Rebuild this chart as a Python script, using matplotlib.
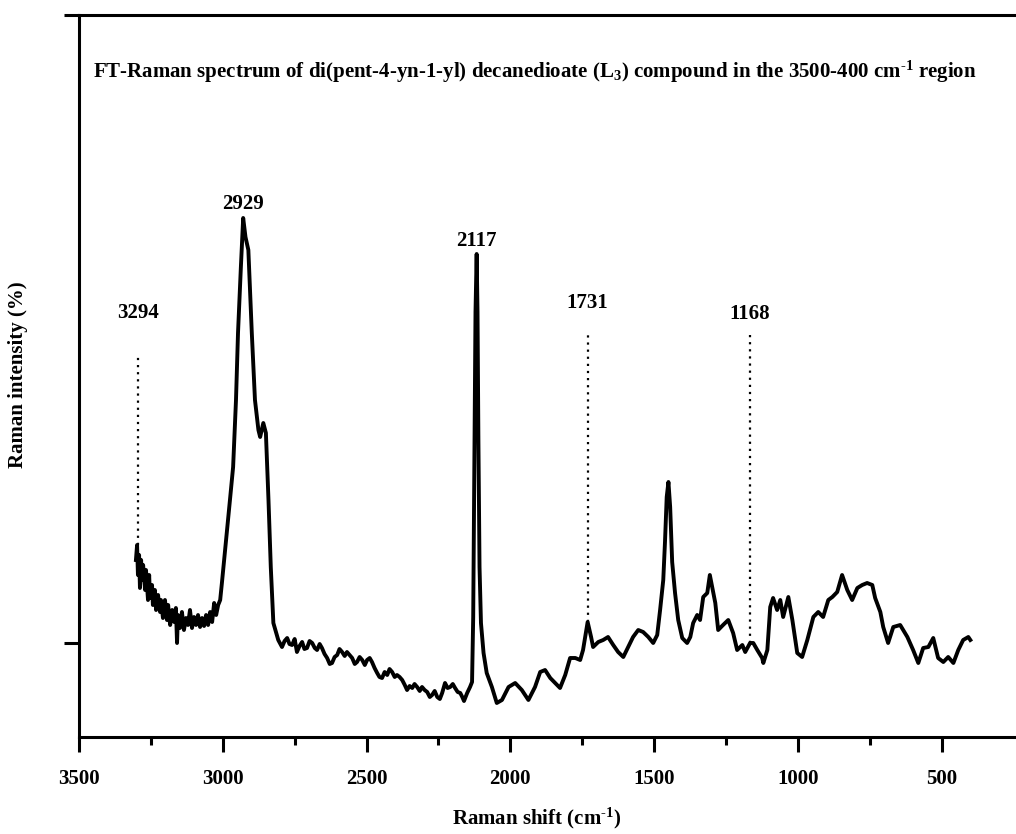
import numpy as np
import matplotlib
matplotlib.use("Agg")
import matplotlib.pyplot as plt

plt.rcParams['font.family'] = ['Liberation Serif', 'DejaVu Serif']
plt.rcParams['font.weight'] = 'bold'
plt.rcParams['mathtext.fontset'] = 'custom'
plt.rcParams['mathtext.rm'] = 'Liberation Serif:bold'
plt.rcParams['mathtext.it'] = 'Liberation Serif:bold'
plt.rcParams['mathtext.bf'] = 'Liberation Serif:bold'
plt.rcParams['mathtext.default'] = 'rm'

# Espectro (numero de onda cm-1, intensidad relativa)
wavenumber = [
    3302, 3298, 3295, 3291, 3288, 3284, 3281, 3277, 3270, 3267, 3260, 3256, 3253, 3246,
    3243, 3236, 3232, 3225, 3218, 3215, 3208, 3201, 3194, 3190, 3183, 3176, 3169, 3163,
    3159, 3156, 3149, 3142, 3135, 3128, 3121, 3114, 3107, 3100, 3093, 3086, 3079, 3072,
    3065, 3058, 3051, 3044, 3037, 3030, 3023, 3016, 3009, 3003, 2986, 2975, 2964, 2954,
    2947, 2937, 2929, 2921, 2911, 2899, 2888, 2876, 2870, 2859, 2850, 2841, 2833, 2824,
    2807, 2794, 2785, 2776, 2768, 2759, 2750, 2742, 2733, 2724, 2716, 2707, 2698, 2689,
    2680, 2672, 2663, 2655, 2646, 2637, 2628, 2620, 2611, 2602, 2594, 2585, 2576, 2568,
    2559, 2550, 2541, 2533, 2524, 2515, 2506, 2498, 2489, 2481, 2472, 2463, 2455, 2446,
    2437, 2428, 2420, 2411, 2402, 2394, 2385, 2376, 2367, 2359, 2350, 2341, 2333, 2324,
    2315, 2307, 2298, 2289, 2280, 2272, 2263, 2254, 2245, 2237, 2227, 2218, 2209, 2200,
    2192, 2183, 2174, 2167, 2161, 2150, 2140, 2133,
    2129, 2125, 2121, 2117, 2114, 2111, 2107, 2102, 2093, 2082, 2064, 2047, 2029, 2006,
    1983, 1960, 1937, 1914, 1896, 1879, 1861, 1844, 1827, 1809, 1792, 1774, 1757, 1747,
    1731, 1719, 1712, 1694, 1677, 1660, 1642, 1625, 1607, 1590, 1573, 1555, 1538, 1520,
    1503, 1489, 1479, 1468, 1462, 1456, 1450, 1444, 1437, 1427, 1416, 1402, 1385, 1374,
    1364, 1350, 1340, 1329, 1315, 1306, 1287, 1277, 1260, 1242, 1225, 1211, 1193, 1183,
    1166, 1155, 1141, 1124, 1120, 1106, 1096, 1086, 1072, 1061, 1051, 1033, 1019, 1002,
    985, 967, 946, 929, 912, 894, 880, 863, 846, 828, 811, 793, 776, 759, 741, 731, 713,
    703, 686, 668, 644, 619, 599, 581, 564, 546, 529, 512, 494, 477, 459, 442, 425, 407, 400,
]
intensity = [
    17.7, 19.2, 16.2, 18.2, 14.9, 17.7, 15.7, 17.2, 14.7, 16.7, 13.7, 16.2, 13.9, 15.2,
    13.2, 14.7, 12.7, 14.2, 12.5, 13.7, 11.9, 13.7, 11.7, 13.2, 11.2, 12.7, 11.5, 12.9,
    9.4, 12.2, 10.9, 12.5, 10.7, 11.9, 11.2, 12.7, 10.9, 12.0, 11.2, 12.2, 11.0, 11.9,
    11.1, 12.2, 11.2, 12.5, 11.5, 13.4, 12.2, 13.2, 13.7, 15.4, 20.4, 23.7, 27.0, 33.7,
    40.4, 47.0, 51.9, 50.0, 48.7, 40.4, 33.7, 30.7, 30.0, 31.4, 30.4, 23.7, 17.0, 11.4,
    9.7, 9.0, 9.6, 9.9, 9.3, 9.2, 9.8, 8.5, 9.1, 9.5, 8.8, 8.9, 9.6, 9.4,
    8.9, 8.7, 9.3, 8.9, 8.3, 7.9, 7.3, 7.4, 8.0, 8.2, 8.8, 8.5, 8.1, 8.5,
    8.2, 7.9, 7.3, 7.5, 8.0, 7.7, 7.2, 7.7, 7.9, 7.5, 6.9, 6.4, 6.0, 5.9,
    6.5, 6.2, 6.8, 6.5, 6.0, 6.2, 6.0, 5.7, 5.2, 4.7, 5.1, 4.9, 5.3, 5.0,
    4.6, 5.0, 4.7, 4.5, 4.0, 4.2, 4.6, 4.0, 3.8, 4.4, 5.4, 4.9, 5.0, 5.3,
    4.9, 4.5, 4.4, 4.0, 3.6, 4.4, 5.0, 5.5,
    12.0, 28.0, 42.5, 48.3, 42.5, 30.0, 17.0, 11.4, 8.4, 6.4, 5.0, 3.4, 3.7, 5.0,
    5.4, 4.7, 3.7, 5.0, 6.5, 6.7, 5.9, 5.4, 4.9, 6.2, 7.9, 7.9, 7.7, 8.7,
    11.5, 10.0, 9.0, 9.5, 9.7, 10.0, 9.2, 8.5, 8.0, 9.0, 10.0, 10.7, 10.5, 10.0,
    9.4, 10.2, 12.7, 15.7, 19.5, 24.0, 25.5, 23.0, 17.5, 14.4, 11.7, 9.9, 9.4, 10.0,
    11.4, 12.2, 11.7, 14.0, 14.4, 16.2, 13.4, 10.7, 11.2, 11.7, 10.4, 8.7, 9.2, 8.5,
    9.4, 9.4, 8.7, 7.9, 7.4, 8.7, 13.0, 13.9, 12.7, 13.7, 12.0, 14.0, 11.7, 8.4,
    8.0, 9.7, 12.0, 12.5, 12.0, 13.7, 14.0, 14.5, 16.2, 14.7, 13.7, 14.9, 15.2, 15.4, 15.2, 13.9, 12.5,
    11.0, 9.4, 11.0, 11.2, 10.0, 8.7, 7.4, 8.9, 9.0, 9.9, 7.9, 7.5, 8.0, 7.4, 8.7, 9.7, 10.0, 9.7,
]

# Bandas marcadas: (posicion, texto, altura del texto, linea punteada)
band_pos = [3294, 2929, 2117, 1731, 1168]
band_label = ['3294', '2929', '2117', '1731', '1168']
band_text_y = [41.4, 52.3, 48.6, 42.4, 41.3]
band_dot_top = [38.4, None, None, 40.5, 40.2]
band_dot_bottom = [19.2, None, None, 11.5, 9.4]

fig = plt.figure(figsize=(10.16, 8.34), dpi=100)
ax = fig.add_axes([79 / 1016, 1 - 737 / 834, 0.924, 722 / 834])

ax.plot(wavenumber, intensity, color='black', lw=2.8, solid_joinstyle='round')

for pos, lab, ty, dtop, dbot in zip(band_pos, band_label, band_text_y, band_dot_top, band_dot_bottom):
    ax.text(pos, ty, lab, ha='center', va='bottom', fontsize=15, fontweight='bold')
    if dtop is not None:
        ax.plot([pos, pos], [dbot, dtop], color='black', lw=1.6, linestyle=(0, (1, 2.2)))

ax.set_xlim(3500, 235)
ax.set_ylim(0, 72.2)
ax.set_xticks([3500, 3000, 2500, 2000, 1500, 1000, 500])
ax.set_xticks([3250, 2750, 2250, 1750, 1250, 750], minor=True)
ax.set_yticks([9.4, 72.2])
ax.set_yticklabels([])
ax.tick_params(axis='both', which='major', direction='out', length=11, width=2.2,
               labelsize=15, pad=12)
ax.tick_params(axis='x', which='minor', direction='out', length=6, width=2.2)
for lbl in ax.get_xticklabels():
    lbl.set_fontweight('bold')
for side in ['left', 'bottom', 'top']:
    ax.spines[side].set_linewidth(2.2)
ax.spines['right'].set_visible(False)

fig.text(537 / 1016, 1 - 818 / 834, r'Raman shift (cm$^{\text{-}1}$)', ha='center',
         va='center', fontsize=15, fontweight='bold')
fig.text(18 / 1016, 1 - 375 / 834, 'Raman intensity (%)', rotation=90, ha='center',
         va='center', fontsize=15, fontweight='bold')

fig.text(93 / 1016, 1 - 72 / 834,
         r'FT-Raman spectrum of di(pent-4-yn-1-yl) decanedioate (L$_3$) compound in the 3500-400 cm$^{\text{-}1}$ region',
         ha='left', va='center', fontsize=15, fontweight='bold')

fig.savefig('out.png', dpi=100)
